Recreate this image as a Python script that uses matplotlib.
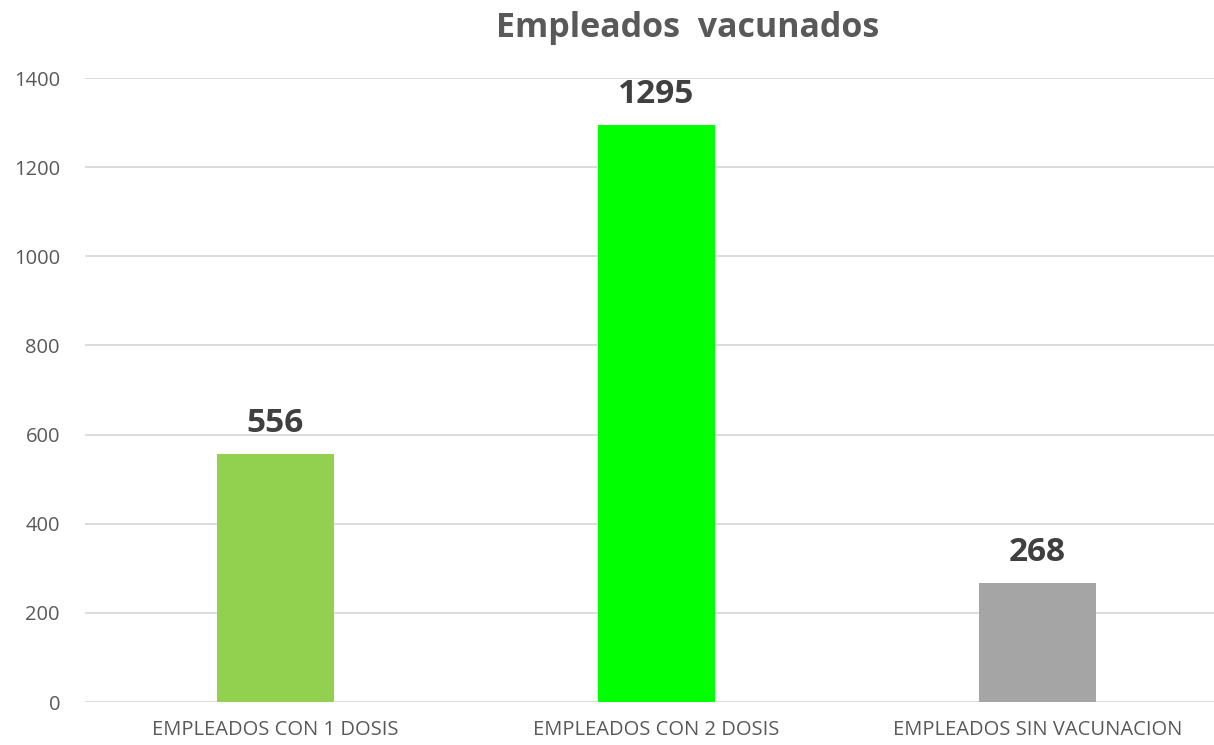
import matplotlib
matplotlib.use('Agg')
from matplotlib import pyplot as plt

# data
categories = ['EMPLEADOS CON 1 DOSIS', 'EMPLEADOS CON 2 DOSIS', 'EMPLEADOS SIN VACUNACION']
values = [556, 1295, 268]
bar_colors = ['#92D050', '#00FF00', '#A5A5A5']
yticks = [0, 200, 400, 600, 800, 1000, 1200, 1400]

plt.rcParams['font.family'] = ['Open Sans', 'DejaVu Sans']

fig = plt.figure(figsize=(12.14, 7.45), dpi=100)
ax = fig.add_axes([85 / 1214, 1 - 702 / 745, 1143 / 1214, (702 - 78) / 745])

x = list(range(len(categories)))
bars = ax.bar(x, values, width=0.307, color=bar_colors, zorder=3)

ax.set_xlim(-0.5, len(categories) - 0.5)
ax.set_ylim(0, 1400)
ax.set_yticks(yticks)
ax.set_yticklabels([str(t) for t in yticks], fontsize=14.5, color='#595959')
ax.set_xticks(x)
ax.set_xticklabels(categories, fontsize=14.5, color='#595959')
ax.tick_params(axis='both', length=0)
ax.tick_params(axis='y', pad=18)
ax.tick_params(axis='x', pad=13)

ax.grid(axis='y', color='#D9D9D9', linewidth=1.3, zorder=0)
for s in ax.spines.values():
    s.set_visible(False)

# value labels above bars
for b, v in zip(bars, values):
    ax.annotate(str(v), (b.get_x() + b.get_width() / 2, v), xytext=(0, 10),
                textcoords='offset points', ha='center', va='bottom',
                fontsize=24, fontweight='bold', color='#404040')

fig.text(688 / 1214, 1 - 28 / 745, 'Empleados  vacunados', ha='center', va='center',
         fontsize=24.5, fontweight='bold', color='#595959')

fig.savefig('out.png', dpi=100)
